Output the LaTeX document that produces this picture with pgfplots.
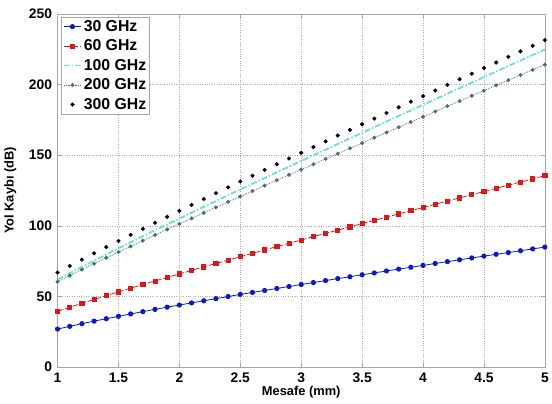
\documentclass[border=0pt]{standalone}
\usepackage{fontspec}
\setmainfont{Liberation Sans}
\usepackage{pgfplots}
\usepackage{pgfplotstable}
\pgfplotsset{compat=1.18}

\definecolor{c30}{rgb}{0.05,0.1,0.75}
\definecolor{c60}{rgb}{0.85,0.1,0.1}
\definecolor{c100}{rgb}{0.4,0.87,0.85}
\definecolor{c200}{rgb}{0.3,0.45,0.42}

% d [mm], path loss [dB] for 30/60/100/200/300 GHz
\pgfplotstableread{
d   f30   f60   f100  f200  f300
1.0 27.0  39.5  62.0  60.5  67.0
1.1 28.9  42.4  66.5  64.8  71.6
1.2 30.8  45.2  71.0  69.1  76.1
1.3 32.6  47.9  75.4  73.3  80.6
1.4 34.3  50.6  79.8  77.4  85.0
1.5 36.0  53.3  84.1  81.5  89.3
1.6 37.7  55.9  88.4  85.5  93.6
1.7 39.3  58.5  92.7  89.5  97.9
1.8 40.9  61.0  96.9  93.5  102.2
1.9 42.5  63.5  101.1 97.5  106.4
2.0 44.0  66.0  105.2 101.4 110.6
2.1 45.5  68.5  109.4 105.3 114.8
2.2 47.0  71.0  113.5 109.2 119.0
2.3 48.5  73.4  117.6 113.1 123.1
2.4 50.0  75.8  121.7 117.0 127.2
2.5 51.5  78.2  125.8 120.8 131.4
2.6 52.9  80.6  129.8 124.6 135.5
2.7 54.3  83.0  133.9 128.5 139.6
2.8 55.7  85.3  137.9 132.3 143.6
2.9 57.1  87.7  141.9 136.1 147.7
3.0 58.5  90.0  145.9 139.8 151.7
3.1 59.9  92.4  149.9 143.6 155.8
3.2 61.3  94.7  153.9 147.4 159.8
3.3 62.7  97.0  157.9 151.1 163.9
3.4 64.0  99.3  161.9 154.9 167.9
3.5 65.4  101.6 165.9 158.6 171.9
3.6 66.7  103.9 169.9 162.4 175.9
3.7 68.1  106.2 173.8 166.1 179.9
3.8 69.4  108.5 177.8 169.8 183.9
3.9 70.7  110.8 181.7 173.5 187.9
4.0 72.0  113.0 185.6 177.2 191.8
4.1 73.4  115.3 189.6 180.9 195.8
4.2 74.7  117.6 193.5 184.7 199.8
4.3 76.0  119.8 197.4 188.3 203.8
4.4 77.3  122.1 201.4 192.0 207.7
4.5 78.6  124.3 205.3 195.7 211.7
4.6 79.9  126.6 209.2 199.4 215.6
4.7 81.1  128.8 213.1 203.1 219.6
4.8 82.4  131.0 217.0 206.8 223.5
4.9 83.7  133.3 220.9 210.4 227.4
5.0 85.0  135.5 224.8 214.1 231.4
}\datatable

\begin{document}
\begin{tikzpicture}
\begin{axis}[
  scale only axis,
  width=491bp, height=356bp,
  xmin=1, xmax=5, ymin=0, ymax=250,
  xtick={1,1.5,...,5}, ytick={0,50,...,250},
  /pgf/number format/assume math mode=true,
  ticklabel style={font=\fontsize{14}{16}\selectfont\bfseries},
  label style={font=\fontsize{13}{15}\selectfont\bfseries},
  xlabel={Mesafe (mm)},
  ylabel={Yol Kaybı (dB)},
  xticklabel style={yshift=-2pt},
  xlabel style={yshift=3pt},
  ylabel style={yshift=6pt},
  yticklabel style={xshift=-2pt},
  axis line style={gray!70},
  tick style={gray!70},
  tick align=inside,
  major tick length=4pt,
  grid=major,
  major grid style={dotted, gray!65},
  legend style={at={(0.008,0.992)}, anchor=north west, draw=gray!70,
    font=\fontsize{16}{18}\selectfont\bfseries, inner sep=1.5pt,
    row sep=3pt, fill=white},
  legend cell align=left,
]
\addplot[c30, thick, mark=*, mark size=2.2pt] table[x=d, y=f30] {\datatable};
\addlegendentry{30 GHz}
\addplot[c60, thick, dash pattern=on 6pt off 2pt, mark=square*, mark size=2.1pt, mark options={solid}] table[x=d, y=f60] {\datatable};
\addlegendentry{60 GHz}
\addplot[c100, line width=1.8pt, dash pattern=on 6pt off 2pt on 1.5pt off 2pt] table[x=d, y=f100] {\datatable};
\addlegendentry{100 GHz}
\addplot[c200, densely dotted, thick, mark=*, mark size=1.6pt, mark options={solid}] table[x=d, y=f200] {\datatable};
\addlegendentry{200 GHz}
\addplot[black, only marks, mark=*, mark size=1.9pt] table[x=d, y=f300] {\datatable};
\addlegendentry{300 GHz}
\end{axis}
\path (-58bp,-37bp) rectangle (494bp,370bp);
\end{tikzpicture}
\end{document}
